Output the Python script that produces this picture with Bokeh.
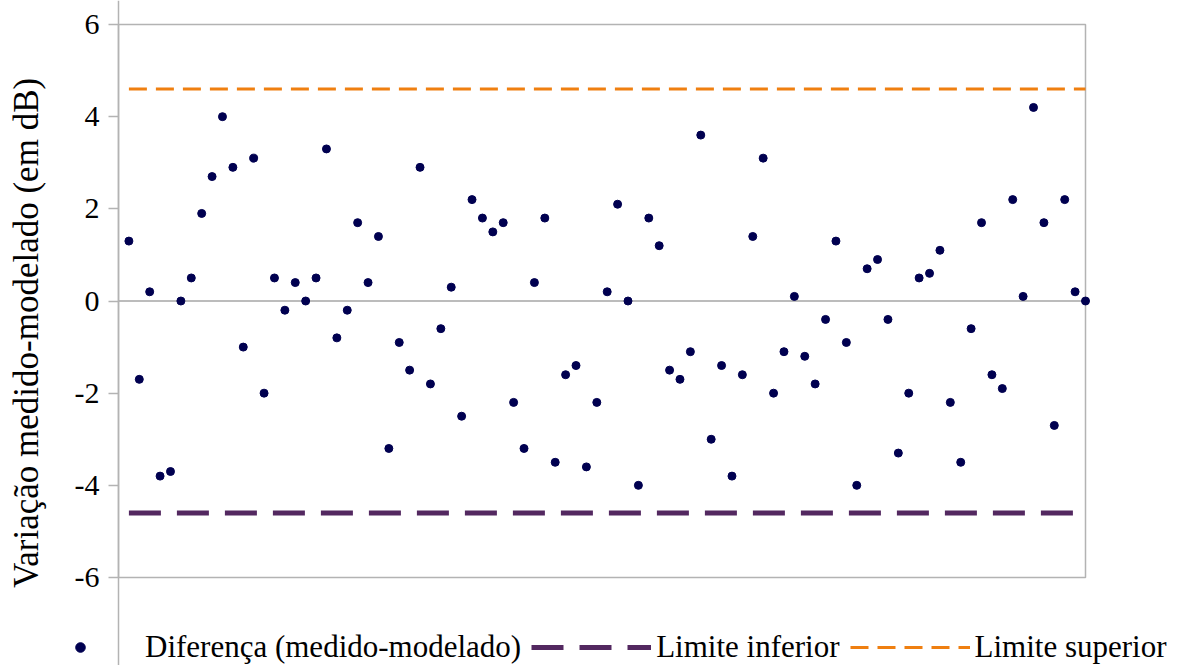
from bokeh.plotting import figure
from bokeh.models import Range1d, Legend, LegendItem, FixedTicker
from bokeh.embed import file_html
from bokeh.resources import INLINE

# ---- data ----
diferenca = [
    1.3, -1.7, 0.2, -3.8, -3.7, 0.0, 0.5, 1.9, 2.7, 4.0,
    2.9, -1.0, 3.1, -2.0, 0.5, -0.2, 0.4, 0.0, 0.5, 3.3,
    -0.8, -0.2, 1.7, 0.4, 1.4, -3.2, -0.9, -1.5, 2.9, -1.8,
    -0.6, 0.3, -2.5, 2.2, 1.8, 1.5, 1.7, -2.2, -3.2, 0.4,
    1.8, -3.5, -1.6, -1.4, -3.6, -2.2, 0.2, 2.1, 0.0, -4.0,
    1.8, 1.2, -1.5, -1.7, -1.1, 3.6, -3.0, -1.4, -3.8, -1.6,
    1.4, 3.1, -2.0, -1.1, 0.1, -1.2, -1.8, -0.4, 1.3, -0.9,
    -4.0, 0.7, 0.9, -0.4, -3.3, -2.0, 0.5, 0.6, 1.1, -2.2,
    -3.5, -0.6, 1.7, -1.6, -1.9, 2.2, 0.1, 4.2, 1.7, -2.7,
    2.2, 0.2, 0.0,
]
indices = list(range(1, len(diferenca) + 1))
limite_inferior = [-4.6] * len(indices)
limite_superior = [4.6] * len(indices)
y_ticks = [-6, -4, -2, 0, 2, 4, 6]
y_tick_labels = {t: str(t) for t in y_ticks}
legend_labels = ["Diferença (medido-modelado)", "Limite inferior", "Limite superior"]

# plot-area extent in data units
X_MIN, X_MAX = 0, len(indices)
Y_MIN, Y_MAX = -6, 6

# ---- layout (pixels) ----
W, H = 1190, 665
AREA_LEFT, AREA_RIGHT, AREA_TOP, AREA_BOTTOM = 118, 1085, 24, 577

FONT = "Liberation Serif"
GRAY = "#b3b3b3"
C_PTS = "#000050"
C_INF = "#532860"
C_SUP = "#ef7f10"

# the frame covers the whole canvas; ranges are padded so the plot area lands
# at AREA_* and the legend can be drawn below it without clipping
sx = (AREA_RIGHT - AREA_LEFT) / (X_MAX - X_MIN)
sy = (AREA_BOTTOM - AREA_TOP) / (Y_MAX - Y_MIN)
x_range = Range1d(X_MIN - AREA_LEFT / sx, X_MAX + (W - AREA_RIGHT) / sx)
y_range = Range1d(Y_MIN - (H - AREA_BOTTOM) / sy, Y_MAX + AREA_TOP / sy)

p = figure(width=W, height=H, frame_width=W, frame_height=H,
           output_backend="svg", toolbar_location=None,
           x_range=x_range, y_range=y_range,
           min_border=0, min_border_left=0, min_border_right=0,
           min_border_top=0, min_border_bottom=0, x_axis_type=None)

p.background_fill_color = "white"
p.border_fill_color = "white"
p.outline_line_color = None
p.xgrid.visible = False
p.ygrid.visible = False

# plot-area border and zero line
p.quad(left=[X_MIN], right=[X_MAX], bottom=[Y_MIN], top=[Y_MAX],
       fill_color=None, line_color=GRAY, line_width=1.5)
p.line([X_MIN, X_MAX], [0, 0], line_color="#a6a6a6", line_width=1.5)

r_inf = p.line(indices, limite_inferior, line_color=C_INF, line_width=5, line_dash="32 16")
r_sup = p.line(indices, limite_superior, line_color=C_SUP, line_width=3, line_dash="18 9")
p.scatter(indices, diferenca, size=8, fill_color=C_PTS, line_color=C_PTS)

# legend-only marker (bigger dot), placed outside the visible range
hidden_x = [x_range.start - 10]
hidden_y = [y_range.start - 10]
r_key = p.scatter(hidden_x, hidden_y, size=14, fill_color=C_PTS, line_color=C_PTS)

ax = p.yaxis[0]
ax.fixed_location = X_MIN
ax.ticker = FixedTicker(ticks=y_ticks)
ax.major_label_overrides = y_tick_labels
ax.axis_line_color = GRAY
ax.axis_line_width = 1.5
ax.major_tick_line_color = GRAY
ax.major_tick_line_width = 1.5
ax.major_tick_out = 10
ax.major_tick_in = 0
ax.minor_tick_line_color = None
ax.major_label_text_font = FONT
ax.major_label_text_font_size = "30px"
ax.major_label_text_color = "black"
ax.major_label_standoff = 9
ax.axis_label = "Variação medido-modelado (em dB)"
ax.axis_label_text_font = FONT
ax.axis_label_text_font_size = "35px"
ax.axis_label_text_font_style = "normal"
ax.axis_label_text_color = "black"
ax.axis_label_standoff = 26

legend = Legend(items=[
    LegendItem(label=legend_labels[0], renderers=[r_key]),
    LegendItem(label=legend_labels[1], renderers=[r_inf]),
    LegendItem(label=legend_labels[2], renderers=[r_sup]),
], orientation="horizontal", location=(20, 0))
legend.label_text_font = FONT
legend.label_text_font_size = "31px"
legend.label_text_color = "black"
legend.glyph_width = 120
legend.glyph_height = 24
legend.label_standoff = 5
legend.spacing = 10
legend.padding = 0
legend.margin = 0
legend.border_line_color = None
legend.background_fill_alpha = 0
p.add_layout(legend, "center")

open("out.html", "w").write(file_html(p, INLINE))
